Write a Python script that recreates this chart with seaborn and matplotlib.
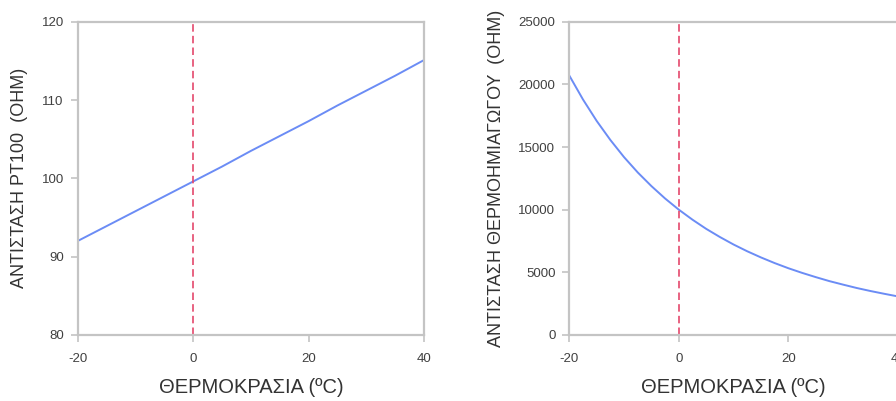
import matplotlib
matplotlib.use("Agg")
import matplotlib.pyplot as plt
import seaborn as sns
import pandas as pd

# temperatures (°C)
temp_pt = [-20, -15, -10, -5, 0, 5, 10, 15, 20, 25, 30, 35, 40]
res_pt100 = [92.0, 93.9, 95.8, 97.7, 99.6, 101.5, 103.5, 105.4, 107.3, 109.3, 111.2, 113.1, 115.1]

temp_ntc = [-20, -17.5, -15, -12.5, -10, -7.5, -5, -2.5, 0, 2.5, 5, 7.5, 10,
            12.5, 15, 17.5, 20, 22.5, 25, 27.5, 30, 32.5, 35, 37.5, 40]
res_ntc = [20700, 18790, 17080, 15560, 14190, 12970, 11880, 10890, 10000, 9200,
           8470, 7820, 7220, 6680, 6190, 5740, 5330, 4960, 4620, 4300, 4020,
           3750, 3510, 3290, 3080]

x_ticks = [-20, 0, 20, 40]
y_ticks_pt = [80, 90, 100, 110, 120]
y_ticks_ntc = [0, 5000, 10000, 15000, 20000, 25000]

xlabel = "ΘΕΡΜΟΚΡΑΣΙΑ (ºC)"
ylabel_pt = "ΑΝΤΙΣΤΑΣΗ PT100  (OHM)"
ylabel_ntc = "ΑΝΤΙΣΤΑΣΗ ΘΕΡΜΟΗΜΙΑΓΩΓΟΥ  (OHM)"

sns.set_style("white")
plt.rcParams['font.family'] = ['Liberation Sans', 'DejaVu Sans']
plt.rcParams['axes.unicode_minus'] = False

fig = plt.figure(figsize=(8.96, 4.01), dpi=100)
ax1 = fig.add_axes([0.0867, 0.1646, 0.3865, 0.7813])
ax2 = fig.add_axes([0.6354, 0.1646, 0.3666, 0.7813])

line_color = "#6b8cf5"
dash_color = "#e4486c"
spine_color = "#c4c4c4"
text_color = "#404040"

df_pt = pd.DataFrame({"t": temp_pt, "r": res_pt100})
df_ntc = pd.DataFrame({"t": temp_ntc, "r": res_ntc})

sns.lineplot(data=df_pt, x="t", y="r", ax=ax1, color=line_color, linewidth=1.4)
sns.lineplot(data=df_ntc, x="t", y="r", ax=ax2, color=line_color, linewidth=1.4)

for ax, yt, ylab in [(ax1, y_ticks_pt, ylabel_pt), (ax2, y_ticks_ntc, ylabel_ntc)]:
    ax.axvline(0, color=dash_color, linestyle=(0, (4.5, 2.5)), linewidth=1.2)
    ax.set_xlim(x_ticks[0], x_ticks[-1])
    ax.set_ylim(yt[0], yt[-1])
    ax.set_xticks(x_ticks)
    ax.set_yticks(yt)
    ax.set_xlabel(xlabel, fontsize=14.5, color="#333333", labelpad=9)
    ax.set_ylabel(ylab, fontsize=13, color="#333333", labelpad=10)
    for s in ax.spines.values():
        s.set_visible(True)
        s.set_color(spine_color)
        s.set_linewidth(1.6)
    ax.tick_params(axis="both", which="major", direction="out", length=5,
                   width=1.2, color=spine_color, labelsize=9.5,
                   labelcolor=text_color, pad=5,
                   bottom=True, left=True)
    ax.tick_params(axis="x", pad=8)

fig.savefig("out.png", dpi=100)
